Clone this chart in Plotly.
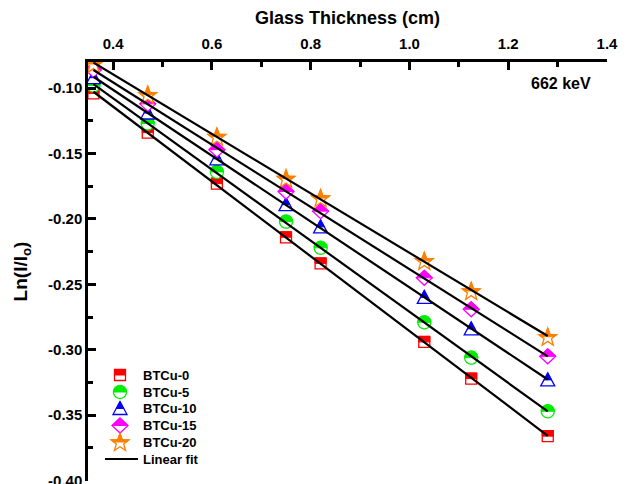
import numpy as np
import plotly.graph_objects as go

# ---------------- data ----------------
thickness = [0.36, 0.47, 0.61, 0.75, 0.82, 1.03, 1.125, 1.28]
btcu0 = [-0.104, -0.134, -0.173, -0.214, -0.234, -0.294, -0.322, -0.366]
btcu5 = [-0.098, -0.127, -0.164, -0.202, -0.222, -0.279, -0.306, -0.347]
btcu10 = [-0.092, -0.119, -0.154, -0.189, -0.206, -0.260, -0.284, -0.323]
btcu15 = [-0.086, -0.112, -0.147, -0.179, -0.194, -0.245, -0.269, -0.305]
btcu20 = [-0.0815, -0.105, -0.137, -0.169, -0.184, -0.232, -0.255, -0.290]
series_names = ["BTCu-0", "BTCu-5", "BTCu-10", "BTCu-15", "BTCu-20"]
series_values = [btcu0, btcu5, btcu10, btcu15, btcu20]
fit_label = "Linear fit"
y_tickvals = [-0.40, -0.35, -0.30, -0.25, -0.20, -0.15, -0.10]
y_ticktext = ["-0.40", "-0.35", "-0.30", "-0.25", "-0.20", "-0.15", "-0.10"]
energy_label = "662 keV"

# ---------------- styles ----------------
FONT = "Liberation Sans, Arial, sans-serif"
colors = ["#FF0000", "#00EE00", "#0000FF", "#FF00FF", "#FF8000"]
symbols = ["square", "circle", "triangle", "diamond", "star"]


def shape_vertices(sym):
    if sym == "square":
        a = 5.5
        return [(-a, -a), (a, -a), (a, a), (-a, a)]
    if sym == "circle":
        r = 6.5
        return [(r * np.cos(t), r * np.sin(t)) for t in np.linspace(0, 2 * np.pi, 40, endpoint=False)]
    if sym == "triangle":
        return [(-7, -6), (7, -6), (0, 7)]
    if sym == "diamond":
        return [(0, 7.5), (8, 0), (0, -7.5), (-8, 0)]
    if sym == "star":
        R, r = 9.5, 3.9
        pts = []
        for k in range(10):
            ang = np.pi / 2 + k * np.pi / 5
            rad = R if k % 2 == 0 else r
            pts.append((rad * np.cos(ang), rad * np.sin(ang) - 0.8))
        return pts


def clip_top(poly):
    # keep the part of the polygon with y >= 0
    out = []
    n = len(poly)
    for i in range(n):
        cur = poly[i]
        prev = poly[i - 1]
        cin = cur[1] >= 0
        pin = prev[1] >= 0
        if cin:
            if not pin:
                t = prev[1] / (prev[1] - cur[1])
                out.append((prev[0] + t * (cur[0] - prev[0]), 0.0))
            out.append(cur)
        elif pin:
            t = prev[1] / (prev[1] - cur[1])
            out.append((prev[0] + t * (cur[0] - prev[0]), 0.0))
    return out


def to_path(pts):
    return "M " + " L ".join(f"{x:.2f},{y:.2f}" for x, y in pts) + " Z"


def marker_shapes(sym, color, xa, ya, xref, yref):
    full = shape_vertices(sym)
    top = clip_top(full)
    base = dict(type="path", xref=xref, yref=yref, xsizemode="pixel", ysizemode="pixel",
                xanchor=xa, yanchor=ya, layer="below")
    s1 = dict(base, path=to_path(full), fillcolor="white", line=dict(color=color, width=1.3))
    s2 = dict(base, path=to_path(top), fillcolor=color, line=dict(color=color, width=1.0))
    return [s1, s2]


fig = go.Figure()
shapes = []

# markers (as half-filled shapes anchored at data points)
for vals, sym, col in zip(series_values, symbols, colors):
    for xv, yv in zip(thickness, vals):
        shapes += marker_shapes(sym, col, xv, yv, "x", "y")

# invisible trace to hold hover info
for vals, name in zip(series_values, series_names):
    fig.add_trace(go.Scatter(x=thickness, y=vals, mode="markers", name=name,
                             marker=dict(size=1, opacity=0), hoverinfo="x+y"))

# linear fits drawn on top
for vals in series_values:
    k, b = np.polyfit(thickness, vals, 1)
    xs = np.array([min(thickness), max(thickness)])
    fig.add_trace(go.Scatter(x=xs, y=k * xs + b, mode="lines",
                             line=dict(color="black", width=2.2), showlegend=False, hoverinfo="skip"))

# ---------------- manual legend ----------------
PL, PT, PW, PH = 88, 62, 519, 419
def px_to_paper(px, py):
    return (px - PL) / PW, (PT + PH - py) / PH

leg_rows = [375, 392, 408.5, 425.5, 442, 459]
sym_x = 120
text_x = 141
annotations = []
for i, (name, sym, col) in enumerate(zip(series_names, symbols, colors)):
    xa, ya = px_to_paper(sym_x, leg_rows[i])
    shapes += marker_shapes(sym, col, xa, ya, "paper", "paper")
    tx, ty = px_to_paper(text_x, leg_rows[i])
    annotations.append(dict(x=tx, y=ty, xref="paper", yref="paper", text=name, showarrow=False,
                            xanchor="left", yanchor="middle", font=dict(size=13, family=FONT, weight="bold")))
lx0, ly = px_to_paper(105, leg_rows[5])
lx1, _ = px_to_paper(138, leg_rows[5])
shapes.append(dict(type="line", xref="paper", yref="paper", x0=lx0, x1=lx1, y0=ly, y1=ly,
                   line=dict(color="black", width=2.2), layer="above"))
tx, ty = px_to_paper(text_x, leg_rows[5])
annotations.append(dict(x=tx, y=ty, xref="paper", yref="paper", text=fit_label, showarrow=False,
                        xanchor="left", yanchor="middle", font=dict(size=13, family=FONT, weight="bold")))

ex, ey = px_to_paper(561, 83)
annotations.append(dict(x=ex, y=ey, xref="paper", yref="paper", text=energy_label, showarrow=False,
                        xanchor="center", yanchor="middle", font=dict(size=16, family=FONT, weight="bold")))

fig.update_layout(
    width=628, height=484,
    margin=dict(l=PL, r=628 - PL - PW, t=PT, b=484 - PT - PH, pad=0, autoexpand=False),
    plot_bgcolor="white", paper_bgcolor="white",
    showlegend=False,
    font=dict(family=FONT, size=15, color="black", weight="bold"),
    shapes=shapes, annotations=annotations,
    xaxis=dict(side="top", range=[0.349, 1.4], tick0=0.4, dtick=0.2, tickformat=".1f",
               ticks="inside", ticklen=8, tickwidth=2.5, tickcolor="black",
               showline=True, linewidth=2.5, linecolor="black", mirror=False,
               showgrid=False, zeroline=False, ticklabelstandoff=4, automargin=False,
               minor=dict(ticks="inside", ticklen=5, tickwidth=2.5, tickcolor="black", tick0=0.4, dtick=0.1),
               tickfont=dict(size=15, family=FONT, weight="bold"),
               title=dict(text="Glass Thickness (cm)", font=dict(size=18, family=FONT, weight="bold"), standoff=6)),
    yaxis=dict(range=[-0.4003, -0.08], tickmode="array", tickvals=y_tickvals, ticktext=y_ticktext,
               ticks="inside", ticklen=8, tickwidth=2.5, tickcolor="black",
               showline=True, linewidth=2.5, linecolor="black", mirror=False,
               showgrid=False, zeroline=False, ticklabeloverflow="allow", automargin=False,
               minor=dict(ticks="inside", ticklen=5, tickwidth=2.5, tickcolor="black", tickmode="linear", tick0=-0.4, dtick=0.025),
               tickfont=dict(size=15, family=FONT, weight="bold"),
               title=dict(text="Ln(I/I<sub>o</sub>)", font=dict(size=19, family=FONT, weight="bold"), standoff=16)),
)

fig.write_html("out.html")
